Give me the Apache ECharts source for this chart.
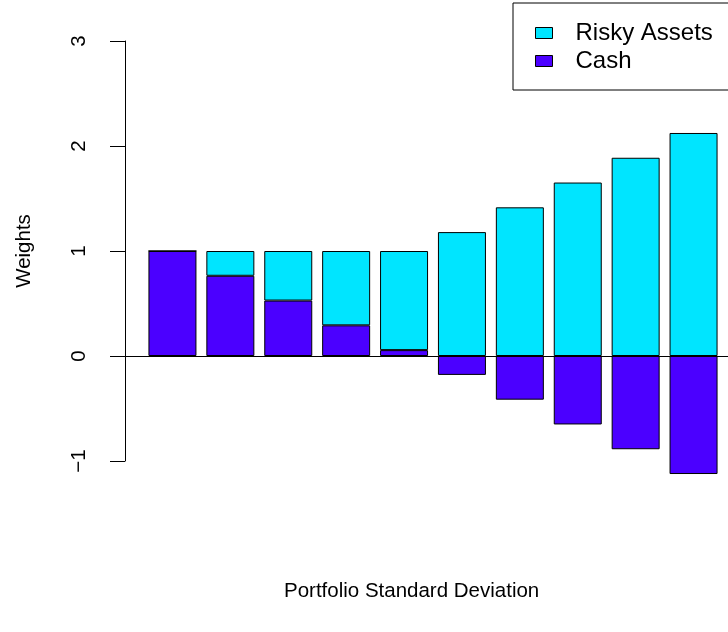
<!DOCTYPE html>
<html>
<head>
<meta charset="utf-8">
<script src="https://cdn.jsdelivr.net/npm/echarts@6/dist/echarts.min.js"></script>
<style>
  html, body { margin: 0; padding: 0; background: #fff; }
  #chart { width: 728px; height: 632px; }
</style>
</head>
<body>
<div id="chart"></div>
<script>
// portfolios along the capital allocation line
const portfolios = ['1', '2', '3', '4', '5', '6', '7', '8', '9', '10']
const cashWeights = [1.00, 0.764, 0.528, 0.292, 0.056, -0.18, -0.416, -0.652, -0.888, -1.124]
const riskyWeights = [0.00, 0.236, 0.472, 0.708, 0.944, 1.18, 1.416, 1.652, 1.888, 2.124]
const yTicks = [-1, 0, 1, 2, 3]

const fontFam = 'Liberation Sans, Arial, sans-serif'
const chart = echarts.init(document.getElementById('chart'))

const option = {
  animation: false,
  backgroundColor: '#ffffff',
  textStyle: { fontFamily: fontFam },
  title: {
    text: 'Portfolio Standard Deviation',
    left: 279,
    top: 576,
    textStyle: { fontFamily: fontFam, fontSize: 20.5, fontWeight: 'normal', color: '#000' }
  },
  legend: {
    orient: 'vertical',
    data: ['Risky Assets', 'Cash'],
    left: 513,
    top: 3,
    padding: [16, 40, 15, 22],
    itemGap: 0,
    itemWidth: 17,
    itemHeight: 11,
    icon: 'rect',
    borderColor: '#000',
    borderWidth: 1,
    borderRadius: 0,
    itemStyle: { borderColor: '#000', borderWidth: 1 },
    textStyle: { fontFamily: fontFam, fontSize: 24, color: '#000', padding: [0, 0, 0, 18], lineHeight: 28 }
  },
  grid: {
    left: 143.5,
    top: 41,
    width: 579,
    height: 420
  },
  xAxis: {
    type: 'category',
    data: portfolios,
    axisLine: { show: true, onZero: true, lineStyle: { color: '#000', width: 1 } },
    axisTick: { show: false },
    axisLabel: { show: false },
    splitLine: { show: false }
  },
  yAxis: {
    type: 'value',
    min: yTicks[0],
    max: yTicks[yTicks.length - 1],
    interval: 1,
    offset: 18.5,
    name: 'Weights',
    nameLocation: 'middle',
    nameGap: 90,
    nameRotate: 90,
    nameTextStyle: { fontFamily: fontFam, fontSize: 20.5, color: '#000' },
    axisLine: { show: true, lineStyle: { color: '#000', width: 1 } },
    axisTick: { show: true, inside: false, length: 15, lineStyle: { color: '#000', width: 1 } },
    axisLabel: {
      rotate: 90,
      margin: 35,
      fontFamily: fontFam,
      fontSize: 20.5,
      color: '#000',
      formatter: v => String(v).replace('-', '\u2212')
    },
    splitLine: { show: false }
  },
  series: [
    {
      name: 'Cash',
      type: 'bar',
      stack: 'w',
      data: cashWeights,
      barWidth: 48,
      clip: false,
      itemStyle: { color: '#4B00FF', borderColor: '#000', borderWidth: 1 },
      markLine: {
        silent: true,
        symbol: 'none',
        label: { show: false },
        lineStyle: { color: '#000', width: 1, type: 'solid' },
        data: [[{ x: 110, yAxis: 0 }, { x: 728, yAxis: 0 }]]
      }
    },
    {
      name: 'Risky Assets',
      type: 'bar',
      stack: 'w',
      data: riskyWeights,
      barWidth: 48,
      clip: false,
      itemStyle: { color: '#00E5FF', borderColor: '#000', borderWidth: 1 }
    }
  ]
}

chart.setOption(option)
</script>
</body>
</html>
